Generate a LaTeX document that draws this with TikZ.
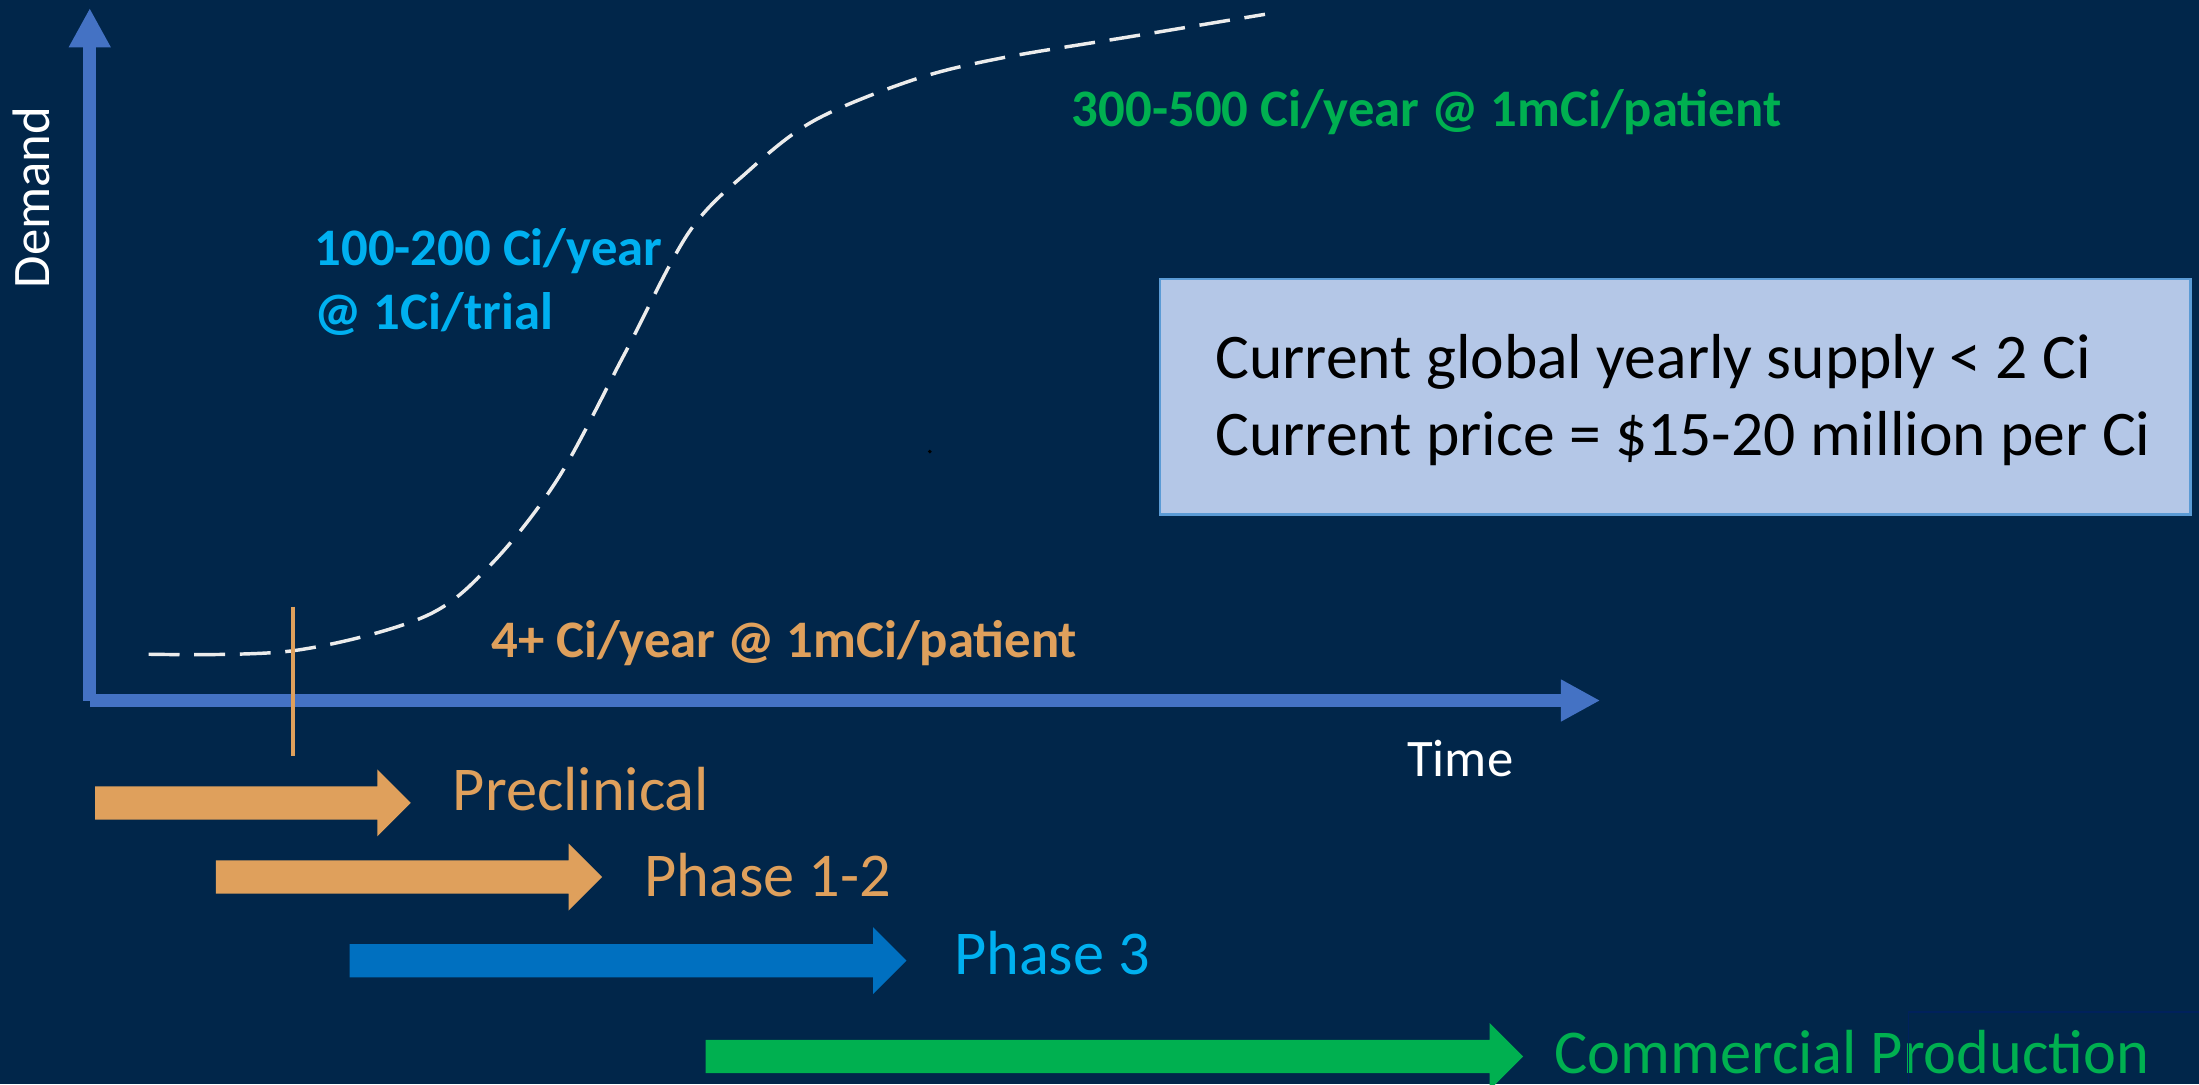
\documentclass[tikz,border=0pt]{standalone}
\usepackage{fontspec}
\setmainfont{Carlito}
\usetikzlibrary{arrows.meta,shapes.arrows}
\definecolor{slidebg}{RGB}{1,38,74}
\definecolor{axisblue}{RGB}{68,114,196}
\definecolor{phaseorange}{RGB}{223,160,92}
\definecolor{phasecyan}{RGB}{0,176,240}
\definecolor{phaseblue}{RGB}{0,112,192}
\definecolor{phasegreen}{RGB}{0,176,80}
\definecolor{boxfill}{RGB}{180,199,231}
\definecolor{boxline}{RGB}{91,155,213}
\definecolor{curvewhite}{RGB}{236,236,236}
\definecolor{faintframe}{RGB}{0,33,92}
\tikzset{
  axis/.style={draw=axisblue, line width=5.1pt, -{Triangle[length=0.56cm,width=0.56cm]}},
  phase arrow/.style={single arrow, fill=#1, draw=none, inner xsep=0pt, inner ysep=0.23cm,
    single arrow head extend=0.24cm, anchor=tail},
  phase label/.style={text=#1, font=\fontsize{25.3}{30}\selectfont, anchor=base west, inner sep=0pt},
  rate label/.style={text=#1, font=\bfseries\fontsize{21.4}{26.2}\selectfont, anchor=base west,
    inner sep=0pt, align=left},
  axis label/.style={text=white, font=\fontsize{21.4}{26}\selectfont, anchor=base west, inner sep=0pt},
  info box/.style={fill=boxfill, draw=boxline, line width=1pt, minimum width=14.7cm,
    minimum height=3.36cm, inner sep=0pt},
  box text/.style={text=black, font=\fontsize{25.8}{31.3}\selectfont, align=left, inner sep=0pt},
  demand curve/.style={draw=curvewhite, line width=1.4pt, dash pattern=on 0.44cm off 0.21cm}
}
\begin{document}
\begin{tikzpicture}[x=0.02cm, y=-0.02cm]
    % slide area
    \useasboundingbox (0,0) rectangle (1568,773);
    \fill[slidebg] (0,0) rectangle (1568,773);

    % supply box
    \node[info box] (supply) at (1194.5,283) {};
    \node[box text, anchor=west] (supplytxt) at ([xshift=0.8cm,yshift=-0.04cm]supply.west)
        {Current global yearly supply < 2 Ci\\Current price = \$15-20 million per Ci};

    % demand curve
    \draw[demand curve] plot[smooth, tension=0.55] coordinates {(106,466.5) (209,464) (302,440)
        (350,402.6) (398,341) (445,253) (491,166) (533,122.5) (580.5,86) (651,57)
        (714,41.4) (810,25.5) (902,10.2)};

    % axes
    \coordinate (O) at (64,499.5);
    \coordinate (ytip) at (64,5.8);
    \coordinate (xtip) at (1141,499.5);
    \draw[axis] (O) -- (ytip);
    \draw[axis] (O) -- (xtip);
    \node[axis label, rotate=90] (ylab) at (35,206) {Demand};
    \node[axis label] (xlab) at (1003,554) {Time};

    % start marker
    \coordinate (ticktop) at (209,432.6);
    \coordinate (tickbot) at (209,539);
    \draw[phaseorange, line width=1.7pt] (ticktop) -- (tickbot);

    % demand levels
    \node[rate label=phasecyan] (trialrate) at (224,235) {100-200 Ci/year\\@ 1Ci/trial};
    \node[rate label=phasegreen] (commrate) at (764,90) {300-500 Ci/year @ 1mCi/patient};
    \node[rate label=phaseorange] (earlyrate) at (350,469) {4+ Ci/year @ 1mCi/patient};
    \fill[black] (663,322) circle (0.8pt);

    % phases
    \foreach \name/\xa/\xb/\ya/\col in {pre/67.5/292.6/572.5/phaseorange,
        phonetwo/153.6/429/625.4/phaseorange, phthree/249/646/685/phaseblue,
        comm/502.7/1085.7/753.3/phasegreen}
        \node[phase arrow=\col, minimum height={(\xb-\xa)*0.02cm}] (\name) at (\xa,\ya) {};

    \foreach \pos/\name/\col/\txt in {{(322.6,578)/prelab/phaseorange/Preclinical},
        {(459,639.4)/phonetwolab/phaseorange/Phase 1-2}, {(680,695)/phthreelab/phasecyan/Phase 3},
        {(1108,765.5)/commlab/phasegreen/Commercial Production}}
        \node[phase label=\col] (\name) at \pos {\txt};

    \draw[faintframe, line width=0.6pt] (1568,721.6) -- (1361,721.6) -- (1361,773);
\end{tikzpicture}
\end{document}
